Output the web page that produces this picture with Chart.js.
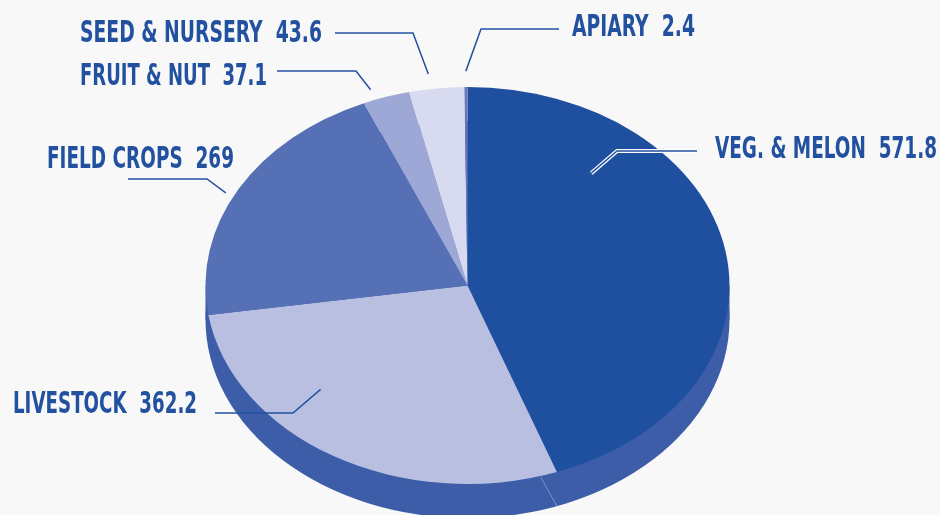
<!DOCTYPE html>
<html><head><meta charset="utf-8">
<script src="https://cdn.jsdelivr.net/npm/chart.js@4/dist/chart.umd.min.js"></script>
<style>html,body{margin:0;padding:0;background:#f8f8f8;overflow:hidden}#wrap{width:940px;height:515px;position:relative}</style>
</head><body><div id="wrap"><canvas id="c" width="940" height="515"></canvas></div>
<script>
// ---- data ----
const categories = ['VEG. & MELON', 'LIVESTOCK', 'FIELD CROPS', 'FRUIT & NUT', 'SEED & NURSERY', 'APIARY'];
const values = [571.8, 362.2, 269, 37.1, 43.6, 2.4];
const valueLabels = ['571.8', '362.2', '269', '37.1', '43.6', '2.4'];
const sliceColors = ['#1f50a0', '#b8bfe0', '#5570b4', '#9da8d6', '#d8dbf0', '#6478bc'];

// ---- layout / style ----
const ELLIPSE = { cx: 467.5, cy: 285.5, rx: 262, ry: 198.5, depth: 34 };
const SIDE_COLOR = '#3d5da8';
const SEAM_COLOR = '#8a9dd0';
const TEXT_COLOR = '#2251a0';
const FONT = 'bold 30px "Liberation Sans Narrow", "DejaVu Sans Condensed", "Arial Narrow", sans-serif';
const labelLayout = [
  { t: 0.249, k: 0.737, elbow: [617, 151], end: [697, 151], tx: 715, ty: 158, w: 222, halo: true },
  { t: 0.66,  k: 0.767, elbow: [293, 413], end: [215, 413], tx: 13,  ty: 413, w: 184 },
  { t: 0.47,  k: 1.034, elbow: [207, 179], end: [128, 179], tx: 47,  ty: 168, w: 187 },
  { t: 0.26,  k: 1.053, elbow: [356, 71],  end: [277, 71],  tx: 80,  ty: 85,  w: 187 },
  { t: 0.40,  k: 1.076, elbow: [413, 33],  end: [335, 33],  tx: 80,  ty: 42,  w: 242 },
  { t: 0.5,   k: 1.08,  elbow: [481, 29],  end: [559, 29],  tx: 572, ty: 36,  w: 123 }
];

function proj(a, k) {
  return [ELLIPSE.cx + ELLIPSE.rx * k * Math.cos(a), ELLIPSE.cy + ELLIPSE.ry * k * Math.sin(a)];
}

const pie3d = {
  id: 'pie3d',
  beforeDatasetsDraw(chart) {
    const ctx = chart.ctx;
    const E = ELLIPSE;
    const arcs = chart.getDatasetMeta(0).data;
    // side wall
    ctx.save();
    ctx.fillStyle = SIDE_COLOR;
    ctx.beginPath();
    ctx.ellipse(E.cx, E.cy + E.depth, E.rx, E.ry, 0, 0, Math.PI * 2);
    ctx.fill();
    ctx.fillRect(E.cx - E.rx, E.cy, E.rx * 2, E.depth);
    // seams on the visible front wall
    ctx.strokeStyle = SEAM_COLOR;
    ctx.lineWidth = 0.8;
    arcs.forEach(arc => {
      let a = arc.endAngle;
      let n = ((a % (2 * Math.PI)) + 2 * Math.PI) % (2 * Math.PI);
      if (n > 0.3 && n < 2.8) {
        const top = proj(a + 0.065, 1);
        const bot = proj(a, 1);
        ctx.beginPath();
        ctx.moveTo(top[0], top[1] + 1);
        ctx.lineTo(bot[0], bot[1] + E.depth);
        ctx.stroke();
      }
    });
    ctx.restore();
    // project the pie's top face onto the tilted ellipse
    const a0 = arcs[0];
    const r0 = a0.outerRadius;
    ctx.save();
    ctx.translate(E.cx, E.cy);
    ctx.scale(E.rx / r0, E.ry / r0);
    ctx.translate(-a0.x, -a0.y);
  },
  afterDatasetsDraw(chart) {
    chart.ctx.restore();
  },
  afterDraw(chart) {
    const ctx = chart.ctx;
    const arcs = chart.getDatasetMeta(0).data;
    ctx.save();
    arcs.forEach((arc, i) => {
      const L = labelLayout[i];
      const a = arc.startAngle + (arc.endAngle - arc.startAngle) * L.t;
      const p = proj(a, L.k);
      ctx.lineJoin = 'miter';
      if (L.halo) {
        ctx.strokeStyle = '#ffffff';
        ctx.lineWidth = 4;
        ctx.beginPath();
        ctx.moveTo(p[0], p[1]); ctx.lineTo(L.elbow[0], L.elbow[1]); ctx.lineTo(L.end[0], L.end[1]);
        ctx.stroke();
      }
      ctx.strokeStyle = TEXT_COLOR;
      ctx.lineWidth = 1.5;
      ctx.beginPath();
      ctx.moveTo(p[0], p[1]); ctx.lineTo(L.elbow[0], L.elbow[1]); ctx.lineTo(L.end[0], L.end[1]);
      ctx.stroke();
      // label text
      const text = categories[i] + '  ' + valueLabels[i];
      ctx.font = FONT;
      ctx.fillStyle = TEXT_COLOR;
      ctx.textBaseline = 'alphabetic';
      ctx.textAlign = 'left';
      const m = ctx.measureText(text).width;
      ctx.save();
      ctx.translate(L.tx, L.ty);
      ctx.scale(L.w / m, 1);
      ctx.fillText(text, 0, 0);
      ctx.restore();
    });
    ctx.restore();
  }
};

new Chart(document.getElementById('c'), {
  type: 'pie',
  data: {
    labels: categories,
    datasets: [{
      data: values,
      backgroundColor: sliceColors,
      borderWidth: 0,
      clip: false
    }]
  },
  options: {
    responsive: false,
    devicePixelRatio: 1,
    animation: false,
    events: [],
    layout: { padding: { top: 85, bottom: 30, left: 205, right: 211 } },
    plugins: { legend: { display: false }, tooltip: { enabled: false } }
  },
  plugins: [pie3d]
});
</script>
</body></html>
